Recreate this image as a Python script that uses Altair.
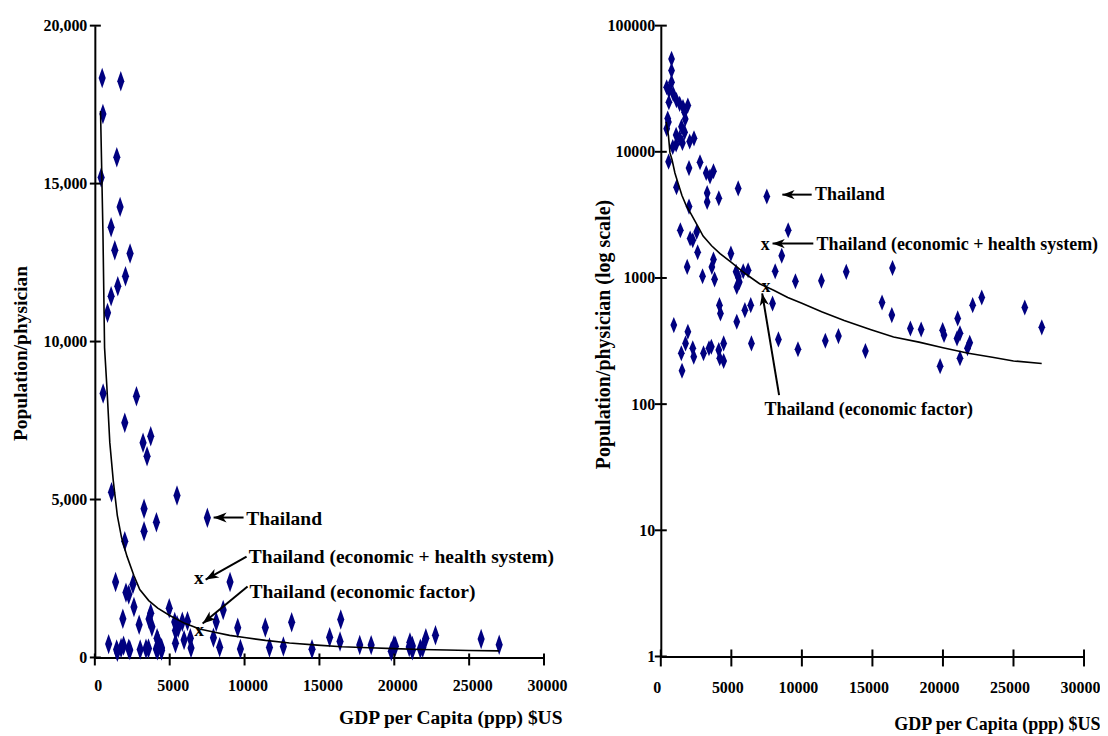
import altair as alt
import pandas as pd

# ---- scatter data: GDP per capita (ppp $US) and population per physician ----
gdp = [762, 762, 762, 416, 573, 877, 573, 1109, 1337, 1573, 1917, 1686,
       490, 1733, 540, 1467, 420, 1687, 1087, 1333, 2353, 2047, 1533, 1087, 847,
       553, 2780, 2000, 3220, 3733, 3487, 1113, 5487, 3287, 3287, 4113, 7515, 2000,
       1386, 2079, 2266, 2543, 2613, 1871, 2959, 3733, 3620, 3812, 4969, 5336, 5495,
       5565, 5385, 5842, 6188, 9030, 8572, 8108, 9543, 11386, 13146, 16424,
       922, 1920, 1753, 1455, 1504, 2266, 2335, 3028, 3416, 3583, 4109, 4179, 4456,
       4456, 4158, 4227, 5385, 5960, 6376, 6424, 7921, 8337, 9723, 11663, 12592,
       14505, 15683, 16376, 17692, 18455, 19799, 19979, 20076, 21046, 20998, 21206,
       21206, 21740, 21899, 22107, 22751, 25800, 27006]
pop = [54500, 44000, 35600, 32500, 30600, 28800, 24700, 25700, 24000, 22600, 23300, 20600,
       18345, 18237, 17206, 15832, 15196, 14263, 13617, 12889, 12785, 12066, 11750, 11434, 10908,
       8354, 8269, 7427, 6794, 7003, 6370, 5231, 5127, 4706, 3997, 4282, 4420, 3680,
       2388, 2053, 1991, 2316, 1600, 1224, 1033, 1400, 1220, 975, 1560, 1120, 1020,
       931, 850, 1132, 1150, 2388, 1500, 1130, 943, 950, 1118, 1200,
       423, 375, 303, 253, 184, 277, 238, 253, 277, 285, 268, 231, 303,
       220, 609, 524, 450, 556, 609, 303, 628, 326, 272, 318, 346,
       264, 640, 508, 398, 391, 200, 386, 353, 478, 332, 364,
       231, 277, 307, 609, 701, 584, 406]

# ---- fitted curve ----
curve_gdp = [380, 540, 650, 800, 1000, 1230, 1500, 1780, 2150, 2600, 3000, 3600, 4200,
             5000, 6000, 7000, 8000, 9000, 10000, 11400, 13000, 14850, 16500, 18300,
             20000, 21800, 23500, 25000, 27000]
curve_pop = [17300, 13500, 9800, 8600, 6800, 5600, 4500, 3800, 3200, 2600, 2150, 1800, 1560,
             1330, 1080, 900, 800, 700, 630, 540, 460, 390, 340, 310,
             280, 253, 235, 220, 210]

# ---- ticks ----
x_ticks = [0, 5000, 10000, 15000, 20000, 25000, 30000]
lin_y_ticks = [0, 5000, 10000, 15000, 20000]
log_y_ticks = [1, 10, 100, 1000, 10000, 100000]

# ---- annotations (linear chart) ----
ann_text = ["Thailand", "Thailand (economic + health system)", "Thailand (economic factor)"]
lin_text_gdp = [10113, 10287, 10333]
lin_text_pop = [4209, 2990, 1867]
lin_tail_gdp = [9933, 10133, 10200]
lin_tail_pop = [4430, 3196, 2247]
lin_head_gdp = [7933, 7400, 7200]
lin_head_pop = [4430, 2468, 1076]
lin_head_angle = [180, 151, 141]
lin_x_gdp = [6953, 6967]
lin_x_pop = [2500, 854]

# ---- annotations (log chart) ----
log_text_gdp = [10930, 11040, 7346]
log_text_pop = [4127, 1660, 82]
log_tail_gdp = [10695, 10811, 8385]
log_tail_pop = [4577, 1875, 118]
log_head_gdp = [8615, 7921, 7186]
log_head_pop = [4577, 1875, 754]
log_head_angle = [180, 180, 260]
log_x_gdp = [7394, 7463]
log_x_pop = [1841, 850]

FONT = "Liberation Serif"
NAVY = "#000080"
ARROW = "M0,0L-1,-0.38L-0.72,0L-1,0.38Z"

pts = pd.DataFrame({"gdp": gdp, "pop": pop})
curve = pd.DataFrame({"gdp": curve_gdp, "pop": curve_pop})


def panel(log, width, height, xaxis, yaxis, yticks, t_gdp, t_pop, a_gdp, a_pop,
          h_gdp, h_pop, h_ang, xm_gdp, xm_pop, diamond, dsize, fsize, hsize,
          xt_range, yt_range):
    sx = alt.Scale(domain=[0, 30000], nice=False, zero=False)
    if log:
        sy = alt.Scale(type="log", domain=[1, 100000], nice=False)
    else:
        sy = alt.Scale(domain=[0, 20000], nice=False)
    X = alt.X("gdp:Q", scale=sx, axis=xaxis)
    Y = alt.Y("pop:Q", scale=sy, axis=yaxis)

    base = alt.Chart(pts)
    if not log:
        base = base.transform_filter("datum.pop <= 20000")
    points = base.mark_point(shape=diamond, filled=True, size=dsize, color=NAVY,
                             opacity=1, strokeWidth=0).encode(x=X, y=Y)
    line = alt.Chart(curve).mark_line(color="black", strokeWidth=1.6).encode(x=X, y=Y)
    xt = alt.Chart(pd.DataFrame({"gdp": x_ticks})).mark_rule(
        color="black", strokeWidth=2).encode(
        x=X, y=alt.value(height + xt_range[0]), y2=alt.value(height + xt_range[1]))
    yt = alt.Chart(pd.DataFrame({"pop": yticks})).mark_rule(
        color="black", strokeWidth=2).encode(
        y=Y, x=alt.value(yt_range[0]), x2=alt.value(yt_range[1]))
    shafts = alt.Chart(pd.DataFrame({"gdp": a_gdp, "pop": a_pop,
                                     "gdp2": h_gdp, "pop2": h_pop})).mark_rule(
        color="black", strokeWidth=2).encode(x=X, y=Y, x2="gdp2:Q", y2="pop2:Q")
    heads = alt.Chart(pd.DataFrame({"gdp": h_gdp, "pop": h_pop, "angle": h_ang})).mark_point(
        shape=ARROW, filled=True, color="black", size=hsize, opacity=1, strokeWidth=0).encode(
        x=X, y=Y, angle=alt.Angle("angle:Q", scale=None))
    labels = alt.Chart(pd.DataFrame({"gdp": t_gdp, "pop": t_pop, "label": ann_text})).mark_text(
        align="left", baseline="alphabetic", font=FONT, fontWeight="bold",
        fontSize=fsize, color="black").encode(x=X, y=Y, text="label:N")
    xmarks = alt.Chart(pd.DataFrame({"gdp": xm_gdp, "pop": xm_pop, "label": ["x", "x"]})).mark_text(
        align="center", baseline="middle", font=FONT, fontWeight="bold",
        fontSize=fsize, color="black").encode(x=X, y=Y, text="label:N")
    return alt.layer(points, line, xt, yt, shafts, heads, labels, xmarks).properties(
        width=width, height=height)


common = dict(ticks=False, grid=False, labelFlush=False, labelOverlap=False,
              domainColor="black", domainWidth=2, labelColor="black", titleColor="black",
              labelFont=FONT, titleFont=FONT, labelFontWeight="bold", titleFontWeight="bold",
              labelFontSize=16)

left_x = alt.Axis(values=x_ticks, format="d", labelPadding=20, labelOffset=3,
                  title="GDP per Capita (ppp) $US", titleX=468, titleY=66,
                  titleAlign="right", titleBaseline="alphabetic", titleFontSize=19.5, **common)
left_y = alt.Axis(values=lin_y_ticks, format=",d", labelPadding=8,
                  title="Population/physician", titleX=-74.5, titleY=328, titleAngle=270,
                  titleAlign="center", titleBaseline="middle", titleFontSize=19.5, **common)
right_x = alt.Axis(values=x_ticks, format="d", labelPadding=23, labelOffset=-4,
                   title="GDP per Capita (ppp) $US", titleX=440, titleY=73,
                   titleAlign="right", titleBaseline="alphabetic", titleFontSize=18, **common)
right_y = alt.Axis(values=log_y_ticks, format="d", labelPadding=6,
                   title="Population/physician (log scale)", titleX=-57, titleY=309, titleAngle=270,
                   titleAlign="center", titleBaseline="middle", titleFontSize=20, **common)

left = panel(False, 450, 633, left_x, left_y, lin_y_ticks,
             lin_text_gdp, lin_text_pop, lin_tail_gdp, lin_tail_pop,
             lin_head_gdp, lin_head_pop, lin_head_angle, lin_x_gdp, lin_x_pop,
             "M0,-1L0.35,0L0,1L-0.35,0Z", 420, 19.5, 676, (-4, 8), (-5, 6))
right = panel(True, 424, 632, right_x, right_y, log_y_ticks,
              log_text_gdp, log_text_pop, log_tail_gdp, log_tail_pop,
              log_head_gdp, log_head_pop, log_head_angle, log_x_gdp, log_x_pop,
              "M0,-1L0.42,0L0,1L-0.42,0Z", 260, 18, 600, (-7, 10), (-6, 6))

chart = alt.hconcat(left, right, spacing=27).properties(
    padding={"left": 2, "top": 9, "right": 0, "bottom": 0}
).configure_view(stroke=None)

chart.save("out.html", embed_options={"renderer": "svg", "actions": False})
